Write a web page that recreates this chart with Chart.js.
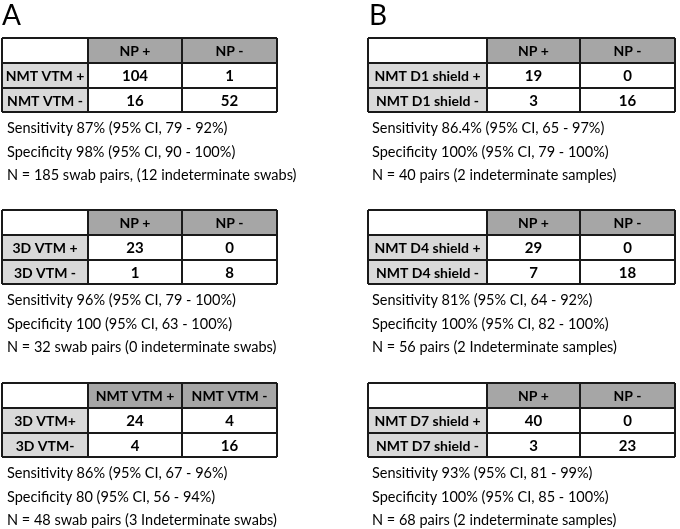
<!DOCTYPE html>
<html>
<head>
<meta charset="utf-8">
<script src="https://cdn.jsdelivr.net/npm/chart.js@4.4.1/dist/chart.umd.min.js"></script>
<style>
  html, body { margin: 0; padding: 0; background: #fff; }
  canvas { display: block; }
</style>
</head>
<body>
<canvas id="chart" width="680" height="529"></canvas>
<script>
// --- data ---
const panelLabels = ['A', 'B'];

const colLabels = [
  ['NP +', 'NP -'],
  ['NP +', 'NP -'],
  ['NMT VTM +', 'NMT VTM -'],
  ['NP +', 'NP -'],
  ['NP +', 'NP -'],
  ['NP +', 'NP -']
];

const rowLabels = [
  ['NMT VTM +', 'NMT VTM -'],
  ['3D VTM +', '3D VTM -'],
  ['3D VTM+', '3D VTM-'],
  ['NMT D1 shield +', 'NMT D1 shield -'],
  ['NMT D4 shield +', 'NMT D4 shield -'],
  ['NMT D7 shield +', 'NMT D7 shield -']
];

const counts = [
  [[104, 1], [16, 52]],
  [[23, 0], [1, 8]],
  [[24, 4], [4, 16]],
  [[19, 0], [3, 16]],
  [[29, 0], [7, 18]],
  [[40, 0], [3, 23]]
];

const statLines = [
  ['Sensitivity 87% (95% CI, 79 - 92%)', 'Specificity 98% (95% CI, 90 - 100%)', 'N = 185 swab pairs, (12 indeterminate swabs)'],
  ['Sensitivity 96% (95% CI, 79 - 100%)', 'Specificity 100 (95% CI, 63 - 100%)', 'N = 32 swab pairs (0 indeterminate swabs)'],
  ['Sensitivity 86% (95% CI, 67 - 96%)', 'Specificity 80 (95% CI, 56 - 94%)', 'N = 48 swab pairs (3 Indeterminate swabs)'],
  ['Sensitivity 86.4% (95% CI, 65 - 97%)', 'Specificity 100% (95% CI, 79 - 100%)', 'N = 40 pairs (2 indeterminate samples)'],
  ['Sensitivity 81% (95% CI, 64 - 92%)', 'Specificity 100% (95% CI, 82 - 100%)', 'N = 56 pairs (2 Indeterminate samples)'],
  ['Sensitivity 93% (95% CI, 81 - 99%)', 'Specificity 100% (95% CI, 85 - 100%)', 'N = 68 pairs (2 indeterminate samples)']
];

// which panel (column) and slot (row) each table goes in
const tablePanel = [0, 0, 0, 1, 1, 1];
const tableSlot = [0, 1, 2, 0, 1, 2];

// --- layout, in scale units ---
const panelLabelX = [2, 369];
const colEdges = [[2, 88, 182, 277], [368, 487, 580, 675]];
const statX = [7, 372];
const slotTop = [38, 210, 383];
const rowEdges = [0, 25, 50, 74];
const statOffsets = [90, 114, 137];

const headerFill = '#a6a6a6';
const labelFill = '#d9d9d9';

const tablesPlugin = {
  id: 'tables',
  afterDraw(chart) {
    const { ctx, scales: { x, y } } = chart;
    ctx.save();
    ctx.fillStyle = '#000';
    ctx.font = '28px Lato';
    ctx.textBaseline = 'alphabetic';
    ctx.textAlign = 'left';
    panelLabels.forEach((p, i) => ctx.fillText(p, x.getPixelForValue(panelLabelX[i]), y.getPixelForValue(25)));

    counts.forEach((tbl, t) => {
      const cx = colEdges[tablePanel[t]].map(v => x.getPixelForValue(v));
      const top = slotTop[tableSlot[t]];
      const ry = rowEdges.map(v => y.getPixelForValue(top + v));

      // fills
      for (let r = 0; r < 3; r++) {
        for (let c = 0; c < 3; c++) {
          let fill = '#ffffff';
          if (r === 0 && c > 0) fill = headerFill;
          if (r > 0 && c === 0) fill = labelFill;
          ctx.fillStyle = fill;
          ctx.fillRect(cx[c], ry[r], cx[c + 1] - cx[c], ry[r + 1] - ry[r]);
        }
      }
      // grid lines
      ctx.strokeStyle = '#1a1a1a';
      ctx.lineWidth = 2;
      ctx.beginPath();
      cx.forEach(px => { ctx.moveTo(px, ry[0]); ctx.lineTo(px, ry[3]); });
      ry.forEach(py => { ctx.moveTo(cx[0], py); ctx.lineTo(cx[3], py); });
      ctx.stroke();

      // texts
      ctx.fillStyle = '#000';
      ctx.textAlign = 'center';
      ctx.textBaseline = 'middle';
      ctx.font = 'bold 14px Lato';
      const mid = (a, b) => (a + b) / 2 + 1;
      colLabels[t].forEach((s, c) => ctx.fillText(s, (cx[c + 1] + cx[c + 2]) / 2, mid(ry[0], ry[1])));
      rowLabels[t].forEach((s, r) => ctx.fillText(s, (cx[0] + cx[1]) / 2, mid(ry[r + 1], ry[r + 2])));
      ctx.font = 'bold 15px Lato';
      tbl.forEach((row, r) => row.forEach((v, c) =>
        ctx.fillText(String(v), (cx[c + 1] + cx[c + 2]) / 2, mid(ry[r + 1], ry[r + 2]))));

      ctx.textAlign = 'left';
      ctx.font = '14.5px Lato';
      statLines[t].forEach((s, i) =>
        ctx.fillText(s, x.getPixelForValue(statX[tablePanel[t]]), y.getPixelForValue(top + statOffsets[i])));
    });
    ctx.restore();
  }
};

new Chart(document.getElementById('chart').getContext('2d'), {
  type: 'scatter',
  data: { datasets: [{ data: [], pointRadius: 0 }] },
  options: {
    responsive: false,
    animation: false,
    devicePixelRatio: 1,
    layout: { padding: 0 },
    plugins: { legend: { display: false }, tooltip: { enabled: false } },
    scales: {
      x: { type: 'linear', min: 0, max: 680, display: false },
      y: { type: 'linear', min: 0, max: 529, reverse: true, display: false }
    }
  },
  plugins: [tablesPlugin]
});
</script>
</body>
</html>
